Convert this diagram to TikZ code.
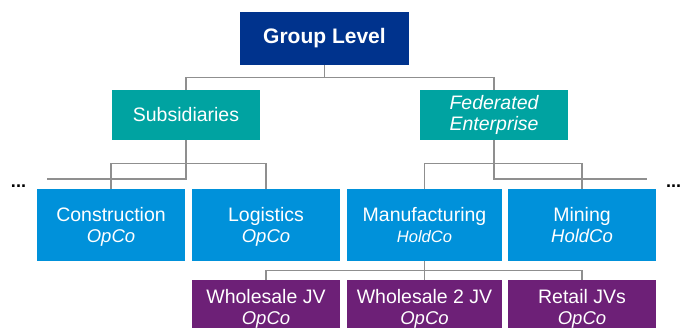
\documentclass[tikz,border=0pt]{standalone}
\usepackage{fontspec}
\setmainfont{Liberation Sans}
\usepackage{tikz}
\usetikzlibrary{positioning}

\definecolor{grpblue}{HTML}{00338D}
\definecolor{divteal}{HTML}{00A3A1}
\definecolor{coblue}{HTML}{0091DA}
\definecolor{jvpurple}{HTML}{6D2077}
\definecolor{linkgray}{HTML}{8F8F8F}

\newcommand{\entkind}[2][18.5]{{\fontsize{#1}{21.5}\selectfont\itshape\smash{#2}}}

\begin{document}
\begin{tikzpicture}[x = 1pt, y = -1pt,
  box/.style = {shape = rectangle, text = white, inner sep = 0pt, align = center, minimum width = 148pt, font = \fontsize{19.5}{21.5}\selectfont},
  grpbox/.style = {box, fill = grpblue, minimum width = 169pt, minimum height = 53pt, font = \fontsize{21}{24}\selectfont\bfseries},
  divbox/.style = {box, fill = divteal, minimum height = 50pt},
  cobox/.style = {box, fill = coblue, minimum height = 72pt},
  jvbox/.style = {box, fill = jvpurple, minimum height = 54pt},
  more/.style = {inner sep = 0pt, font = \fontsize{18}{18}\selectfont\bfseries},
  link/.style = {draw = linkgray, line width = 1.1pt}]
\useasboundingbox (0,0) rectangle (681,328);

\node[grpbox] (group) at (324.5,38.5) {Group Level};
\node[divbox] (subs) at (186,115) {Subsidiaries};
\node[divbox] (fed) at (494,115) {\itshape Federated\\\itshape Enterprise};

\node[cobox] (constr) at (111,225) {Construction\\\entkind{OpCo}};
\node[cobox] (logi) at (266,225) {Logistics\\\entkind{OpCo}};
\node[cobox, minimum width = 155pt] (manu) at (424.5,225) {Manufacturing\\\entkind[16.5]{HoldCo}};
\node[cobox] (mining) at (582,225) {Mining\\\entkind{HoldCo}};

\node[jvbox] (wsale) at (266,307) {Wholesale JV\\\entkind{OpCo}};
\node[jvbox, minimum width = 155pt] (wsale2) at (424.5,307) {Wholesale 2 JV\\\entkind{OpCo}};
\node[jvbox] (retail) at (582,307) {Retail JVs\\\entkind{OpCo}};

\node[more] (dotsl) at (18.5,186) {...};
\node[more] (dotsr) at (673.5,186) {...};
\coordinate (leftend) at (47,179);
\coordinate (rightend) at (647,179);

% group level down to the two branches
\draw[link] (group.south) -- ++(0,12) -| (subs.north);
\draw[link] (group.south) -- ++(0,12) -| (fed.north);
% subsidiaries
\draw[link] (subs.south) |- (leftend);
\draw[link] (constr.north) -- ++(0,-25) -| (logi.north);
% federated enterprise
\draw[link] (fed.south) |- (rightend);
\draw[link] (manu.north) -- ++(0,-25) -| (mining.north);
% joint ventures under manufacturing
\draw[link] (manu.south) -- ++(0,9.5) -| (wsale.north);
\draw[link] (manu.south) -- ++(0,9.5) -| (retail.north);
\draw[link] (manu.south) -- (wsale2.north);
\end{tikzpicture}
\end{document}
